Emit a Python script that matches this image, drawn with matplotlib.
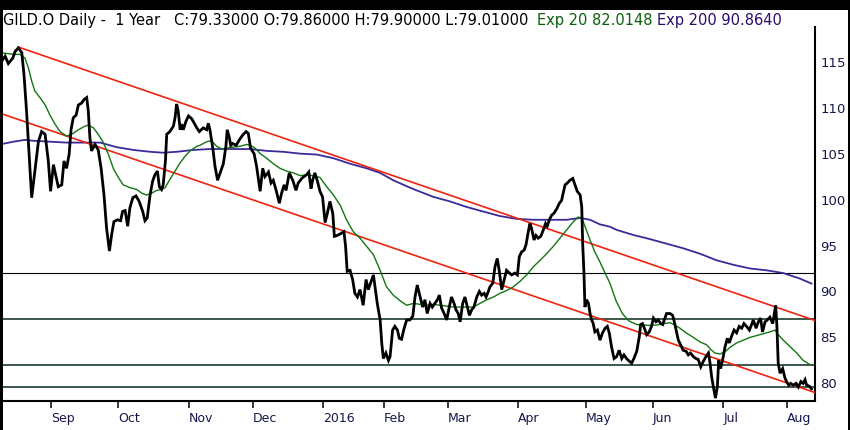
import matplotlib
matplotlib.use("Agg")
import matplotlib.pyplot as plt
from matplotlib.patches import Rectangle

W, H = 850, 430

# x axis is trading-day index, day 0 = 10 Aug 2015
month_days = [16, 37, 59, 79, 101, 120, 140, 162, 183, 204, 226, 246]
month_labels = ["Sep", "Oct", "Nov", "Dec", "2016", "Feb", "Mar", "Apr",
                "May", "Jun", "Jul", "Aug"]
y_ticks = [80, 85, 90, 95, 100, 105, 110, 115]

# daily close (day, price)
price_pts = [
    (0.8, 115.2), (1.6, 115.6), (2.6, 114.8), (4.0, 115.4), (4.7, 116.1), (5.7, 116.5),
    (6.8, 116.0), (7.5, 113.6), (8.3, 109.6), (9.2, 104.2), (9.9, 100.2), (10.9, 103.1),
    (12.0, 106.3), (13.0, 107.4), (14.1, 107.1), (15.1, 104.2), (15.8, 100.9), (16.7, 103.8),
    (17.4, 102.7), (18.2, 101.4), (19.3, 101.6), (20.0, 104.2), (20.8, 103.4), (21.6, 104.9),
    (22.2, 107.6), (22.9, 108.9), (23.8, 109.2), (24.5, 110.3), (25.5, 110.5), (26.3, 110.9),
    (27.1, 111.1), (27.6, 109.6), (28.1, 106.7), (28.6, 105.3), (29.7, 106.0), (30.7, 105.4),
    (31.6, 103.4), (32.5, 100.5), (33.3, 96.9), (34.2, 94.4), (34.9, 96.2), (35.6, 97.6),
    (36.7, 97.8), (37.7, 97.7), (38.3, 98.7), (39.1, 98.8), (39.9, 97.1), (40.6, 99.1),
    (41.5, 100.2), (42.5, 100.4), (43.5, 99.8), (44.6, 98.7), (45.3, 97.7), (46.0, 98.0),
    (46.9, 100.5), (47.7, 102.0), (48.4, 102.7), (49.2, 103.1), (49.8, 101.4), (50.5, 101.1),
    (51.0, 101.6), (51.7, 104.2), (52.1, 107.1), (53.1, 107.4), (54.2, 108.0), (54.7, 108.9),
    (55.2, 110.4), (55.7, 109.6), (56.3, 107.6), (56.8, 108.2), (57.3, 107.6), (58.1, 108.5),
    (58.9, 109.1), (59.9, 108.8), (60.4, 108.5), (61.5, 107.8), (62.3, 107.4), (63.5, 107.8),
    (64.6, 107.6), (65.1, 108.3), (65.6, 107.6), (66.5, 105.6), (67.2, 103.6), (68.0, 102.1),
    (68.8, 102.9), (69.8, 103.9), (70.6, 105.8), (71.0, 107.6), (71.7, 106.7), (72.1, 105.9),
    (72.7, 106.1), (73.8, 105.9), (74.8, 106.5), (75.8, 107.0), (76.9, 107.4), (77.6, 107.2),
    (78.3, 105.6), (79.4, 105.0), (80.2, 103.6), (81.3, 100.9), (82.1, 103.4), (82.8, 102.5),
    (83.9, 103.0), (84.7, 101.8), (85.4, 102.1), (86.3, 101.0), (87.3, 99.6), (88.0, 100.7),
    (88.8, 101.6), (89.4, 101.0), (90.4, 102.9), (91.5, 102.1), (92.5, 101.0), (93.2, 101.8),
    (94.3, 102.3), (95.0, 102.5), (95.8, 102.7), (96.5, 103.0), (97.2, 101.2), (97.7, 102.1),
    (98.4, 102.9), (99.2, 102.0), (100.0, 100.9), (100.8, 100.3), (101.6, 97.5), (102.3, 98.5),
    (103.1, 99.8), (104.0, 98.5), (104.5, 96.0), (105.4, 96.1), (106.5, 96.3), (107.5, 96.5),
    (108.0, 94.9), (108.5, 92.2), (109.4, 92.3), (110.2, 91.3), (110.9, 89.8), (111.7, 89.4),
    (112.5, 90.2), (113.5, 88.5), (114.4, 91.3), (115.1, 90.2), (115.8, 90.9), (116.7, 91.8),
    (117.2, 90.5), (117.9, 88.7), (118.8, 86.9), (119.3, 84.4), (119.8, 82.7), (120.6, 83.3),
    (121.4, 82.5), (121.9, 82.9), (122.7, 85.8), (123.4, 86.2), (124.2, 85.8), (124.8, 84.9),
    (125.5, 84.8), (126.3, 86.0), (127.1, 86.9), (128.1, 86.9), (129.0, 87.3), (129.7, 89.4),
    (130.4, 90.7), (131.3, 89.4), (132.1, 88.3), (132.8, 89.1), (133.5, 87.6), (134.4, 88.7),
    (135.1, 88.3), (135.9, 88.7), (136.7, 89.1), (137.3, 89.6), (138.0, 88.2), (138.8, 87.6),
    (139.6, 86.9), (140.4, 88.3), (141.1, 89.4), (141.9, 88.7), (142.5, 88.0), (143.2, 87.6),
    (143.8, 86.7), (144.6, 88.7), (145.3, 89.4), (145.8, 88.7), (146.7, 87.4), (147.4, 88.0),
    (148.1, 88.3), (149.0, 89.4), (149.8, 90.0), (150.5, 89.6), (151.3, 89.8), (151.9, 89.4),
    (152.6, 90.0), (153.1, 90.5), (154.0, 90.9), (154.7, 92.7), (155.4, 93.6), (156.0, 92.3),
    (156.8, 90.2), (157.5, 91.2), (158.3, 92.3), (159.2, 92.0), (159.9, 91.8), (160.9, 92.0),
    (161.7, 91.8), (162.3, 93.8), (163.0, 94.3), (163.8, 94.5), (164.4, 95.1), (165.1, 96.5),
    (165.6, 97.4), (166.1, 96.9), (166.9, 95.6), (167.5, 96.1), (168.2, 95.8), (169.0, 96.0),
    (169.8, 96.7), (170.5, 97.4), (171.0, 97.1), (171.7, 97.8), (172.4, 98.3), (173.1, 98.5),
    (174.0, 99.0), (174.8, 99.6), (175.5, 99.9), (176.0, 100.7), (176.6, 101.6), (177.3, 101.8),
    (178.1, 102.1), (179.0, 102.3), (179.7, 101.6), (180.4, 100.9), (181.3, 100.5), (181.8, 99.2),
    (182.1, 95.2), (182.5, 92.0), (182.8, 88.3), (183.3, 89.1), (183.9, 88.7), (184.4, 87.6),
    (184.9, 86.9), (185.4, 86.5), (185.9, 85.6), (186.7, 85.8), (187.5, 84.7), (188.3, 85.5),
    (189.1, 86.0), (189.8, 86.2), (190.4, 85.5), (191.1, 84.0), (191.9, 82.7), (192.7, 82.9),
    (193.5, 83.6), (194.3, 82.7), (195.0, 83.1), (195.8, 82.7), (196.7, 82.4), (197.4, 82.2),
    (198.1, 82.7), (199.0, 83.5), (199.8, 85.1), (200.2, 86.4), (200.8, 86.5), (201.6, 85.8),
    (202.1, 85.3), (202.9, 85.6), (203.6, 86.2), (204.2, 87.1), (205.0, 86.7), (205.7, 86.9),
    (206.5, 86.5), (207.1, 86.4), (207.8, 87.1), (208.3, 87.6), (209.4, 87.6), (210.2, 87.4),
    (210.6, 86.9), (211.3, 85.8), (212.0, 84.7), (212.7, 84.2), (213.5, 83.6), (214.4, 83.5),
    (215.1, 83.1), (215.8, 83.3), (216.7, 82.9), (217.5, 82.7), (218.2, 82.6), (219.0, 81.8),
    (219.8, 82.4), (220.6, 82.9), (221.4, 83.3), (221.9, 82.2), (222.4, 80.7), (223.1, 79.3),
    (223.6, 78.4), (224.2, 79.7), (224.6, 82.5), (225.2, 81.6), (225.8, 82.5), (226.6, 84.0),
    (227.3, 84.9), (227.9, 84.4), (228.6, 85.1), (229.4, 85.8), (230.2, 85.5), (231.0, 86.2),
    (231.8, 86.0), (232.5, 86.5), (233.3, 86.2), (234.2, 85.8), (234.9, 86.4), (235.4, 86.9),
    (236.3, 86.0), (237.0, 86.7), (237.7, 87.1), (238.3, 85.6), (239.1, 86.7), (239.8, 86.9),
    (240.6, 87.2), (241.5, 86.5), (242.0, 87.6), (242.4, 88.5), (242.8, 86.2), (243.2, 82.2),
    (243.8, 81.1), (244.6, 81.6), (245.3, 80.6), (245.8, 80.2), (246.5, 79.8), (247.1, 80.0),
    (247.9, 79.8), (248.8, 80.0), (249.5, 79.6), (250.3, 80.2), (251.0, 80.0), (251.6, 80.4),
    (252.1, 79.8), (252.9, 79.7), (253.6, 79.4),
]

# Exp 20 moving average
ema20_pts = [
    (0.0, 116.0), (2.1, 115.9), (4.2, 115.8), (6.3, 115.8), (7.8, 115.4), (8.9, 114.3),
    (9.9, 112.9), (10.9, 111.8), (12.5, 111.1), (14.1, 110.3), (15.6, 109.2), (17.2, 108.2),
    (18.8, 107.4), (20.8, 106.9), (22.4, 107.1), (24.5, 107.6), (26.6, 108.0), (27.6, 108.1),
    (29.2, 107.8), (30.7, 107.1), (32.3, 106.2), (33.9, 104.9), (35.4, 103.4), (37.0, 102.4),
    (38.5, 101.6), (40.6, 101.3), (42.7, 101.1), (44.3, 100.7), (45.8, 100.5), (47.4, 100.7),
    (49.0, 101.0), (50.5, 101.1), (51.6, 101.3), (53.1, 102.2), (54.7, 103.1), (56.3, 104.0),
    (57.8, 104.7), (59.4, 105.3), (61.5, 105.8), (62.5, 105.9), (64.6, 106.3), (66.1, 106.4),
    (67.7, 105.8), (69.3, 105.5), (70.8, 105.6), (72.9, 105.7), (75.0, 105.8), (77.1, 106.0),
    (78.3, 105.9), (79.7, 105.6), (81.3, 105.0), (83.3, 104.5), (85.4, 103.9), (87.5, 103.4),
    (89.6, 103.1), (91.7, 102.9), (93.8, 102.6), (95.8, 102.7), (97.9, 102.6), (100.0, 102.4),
    (102.1, 101.4), (104.2, 100.5), (106.3, 99.4), (108.3, 97.8), (110.4, 96.5), (112.5, 95.8),
    (114.6, 94.9), (116.7, 94.0), (118.8, 92.3), (120.8, 90.5), (122.9, 89.6), (125.0, 89.0),
    (127.1, 88.5), (129.2, 88.7), (131.3, 88.6), (133.3, 88.5), (135.4, 88.6), (137.5, 88.5),
    (139.6, 88.4), (141.7, 88.3), (143.8, 88.3), (145.8, 88.3), (147.9, 88.3), (150.0, 88.7),
    (152.1, 89.1), (154.2, 89.4), (156.3, 89.8), (158.3, 90.1), (160.4, 90.5), (162.5, 91.1),
    (164.6, 91.8), (166.7, 92.7), (168.8, 93.4), (170.8, 94.1), (172.9, 94.9), (175.0, 95.8),
    (177.1, 96.7), (179.2, 97.6), (180.7, 98.1), (181.8, 98.0), (182.8, 97.1), (184.4, 95.6),
    (185.9, 94.3), (187.5, 93.2), (189.1, 92.0), (190.6, 90.9), (192.5, 89.0), (194.5, 87.6),
    (196.5, 86.8), (199.0, 86.4), (201.0, 86.35), (203.1, 86.3), (205.2, 86.35), (207.3, 86.5),
    (209.4, 86.6), (210.9, 86.35), (212.5, 86.0), (214.6, 85.45), (216.7, 85.0), (218.8, 84.5),
    (220.8, 84.2), (222.4, 83.6), (223.4, 83.3), (225.0, 83.2), (226.6, 83.45), (228.1, 83.9),
    (230.2, 84.4), (232.3, 84.7), (234.4, 85.0), (236.5, 85.2), (238.5, 85.4), (240.6, 85.6),
    (242.2, 85.8), (243.2, 85.3), (244.8, 84.7), (246.9, 84.0), (249.0, 83.3), (251.0, 82.5),
    (253.1, 82.05), (253.6, 82.01),
]

# Exp 200 moving average
ema200_pts = [
    (0.0, 106.0), (4.2, 106.3), (7.8, 106.5), (10.4, 106.4), (15.6, 106.3), (20.8, 106.2),
    (26.0, 106.2), (31.3, 106.2), (36.5, 105.7), (41.7, 105.4), (46.9, 105.2), (51.0, 105.1),
    (55.2, 105.2), (60.4, 105.4), (65.6, 105.5), (72.9, 105.5), (78.1, 105.5), (83.3, 105.3),
    (88.5, 105.2), (93.8, 105.0), (99.0, 104.9), (104.2, 104.5), (109.4, 103.9), (114.6, 103.4),
    (118.8, 102.9), (122.9, 102.1), (128.1, 101.3), (130.2, 101.0), (135.4, 100.3), (140.6, 99.8),
    (145.8, 99.2), (151.0, 98.7), (156.3, 98.2), (161.5, 97.9), (166.7, 97.8), (171.9, 97.8),
    (177.1, 97.8), (181.3, 98.0), (184.4, 97.8), (187.5, 97.3), (190.6, 97.05), (192.7, 96.7),
    (197.9, 96.15), (203.1, 95.7), (208.3, 95.2), (213.5, 94.7), (218.8, 94.1), (223.9, 93.4),
    (229.2, 92.9), (234.4, 92.5), (239.6, 92.3), (244.8, 92.0), (250.0, 91.4), (253.6, 90.86),
]

# trend channel end points
upper_trend = [(5.7, 116.6), (254.7, 86.84)]
lower_trend = [(0.0, 109.4), (254.7, 79.0)]

# horizontal support / resistance levels
thin_levels = [92.0]
heavy_levels = [87.0, 82.0, 79.6]

title_main = "GILD.O Daily -  1 Year   C:79.33000 O:79.86000 H:79.90000 L:79.01000"
title_ema20 = "Exp 20 82.0148"
title_ema200 = "Exp 200 90.8640"


def px(x, y):
    # pixel position (from top-left) -> figure fraction
    return x / W, 1 - y / H


fig = plt.figure(figsize=(W / 100, H / 100), dpi=100, facecolor="white")
ax = fig.add_axes([0, (H - 401) / H, 815 / W, (401 - 27) / H])
ax.set_facecolor("white")

for lv in thin_levels:
    ax.axhline(lv, color="black", lw=0.8, zorder=1)
for lv in heavy_levels:
    ax.axhline(lv, color="#1d3b2f", lw=1.2, zorder=1)

ax.plot(*zip(*ema200_pts), color="#3a2a9a", lw=1.3, zorder=2)
ax.plot(*zip(*upper_trend), color="#ee2211", lw=1.2, zorder=3)
ax.plot(*zip(*lower_trend), color="#ee2211", lw=1.2, zorder=3)
ax.plot(*zip(*ema20_pts), color="#127512", lw=1.0, zorder=4)
ax.plot(*zip(*price_pts), color="black", lw=2.0, zorder=5,
        solid_joinstyle="miter")

ax.set_xlim(0, 254.7)
ax.set_ylim(78.08, 118.78)

for side in ("top", "left"):
    ax.spines[side].set_visible(False)
for side in ("right", "bottom"):
    ax.spines[side].set_linewidth(1.5)
    ax.spines[side].set_color("black")

ax.set_xticks(month_days)
ax.set_xticklabels(month_labels)
for lbl in ax.get_xticklabels():
    lbl.set_horizontalalignment("left")
ax.tick_params(axis="x", direction="out", length=5, width=1.1, pad=3,
               labelsize=9, labelcolor="#16164a", color="black")

ax.yaxis.tick_right()
ax.set_yticks(y_ticks)
ax.tick_params(axis="y", length=0, pad=4, labelsize=9.5, labelcolor="#16164a")

# header text
fig.text(*px(3, 20.5), title_main, ha="left", va="center", fontsize=10.55, color="black")
fig.text(*px(537, 20.5), title_ema20, ha="left", va="center", fontsize=10.55, color="#0a5f0a")
fig.text(*px(657, 20.5), title_ema200, ha="left", va="center", fontsize=10.55, color="#2d0b6b")

# black frame around the picture
frame = [
    Rectangle(px(0, 10), 1, 10 / H),
    Rectangle((0, 0), 2.5 / W, 1),
    Rectangle((1 - 2.5 / W, 0), 2.5 / W, 1),
]
for r in frame:
    r.set_transform(fig.transFigure)
    r.set_facecolor("black")
    r.set_edgecolor("none")
    r.set_zorder(10)
    fig.patches.append(r)

fig.savefig("out.png", dpi=100, facecolor="white")
